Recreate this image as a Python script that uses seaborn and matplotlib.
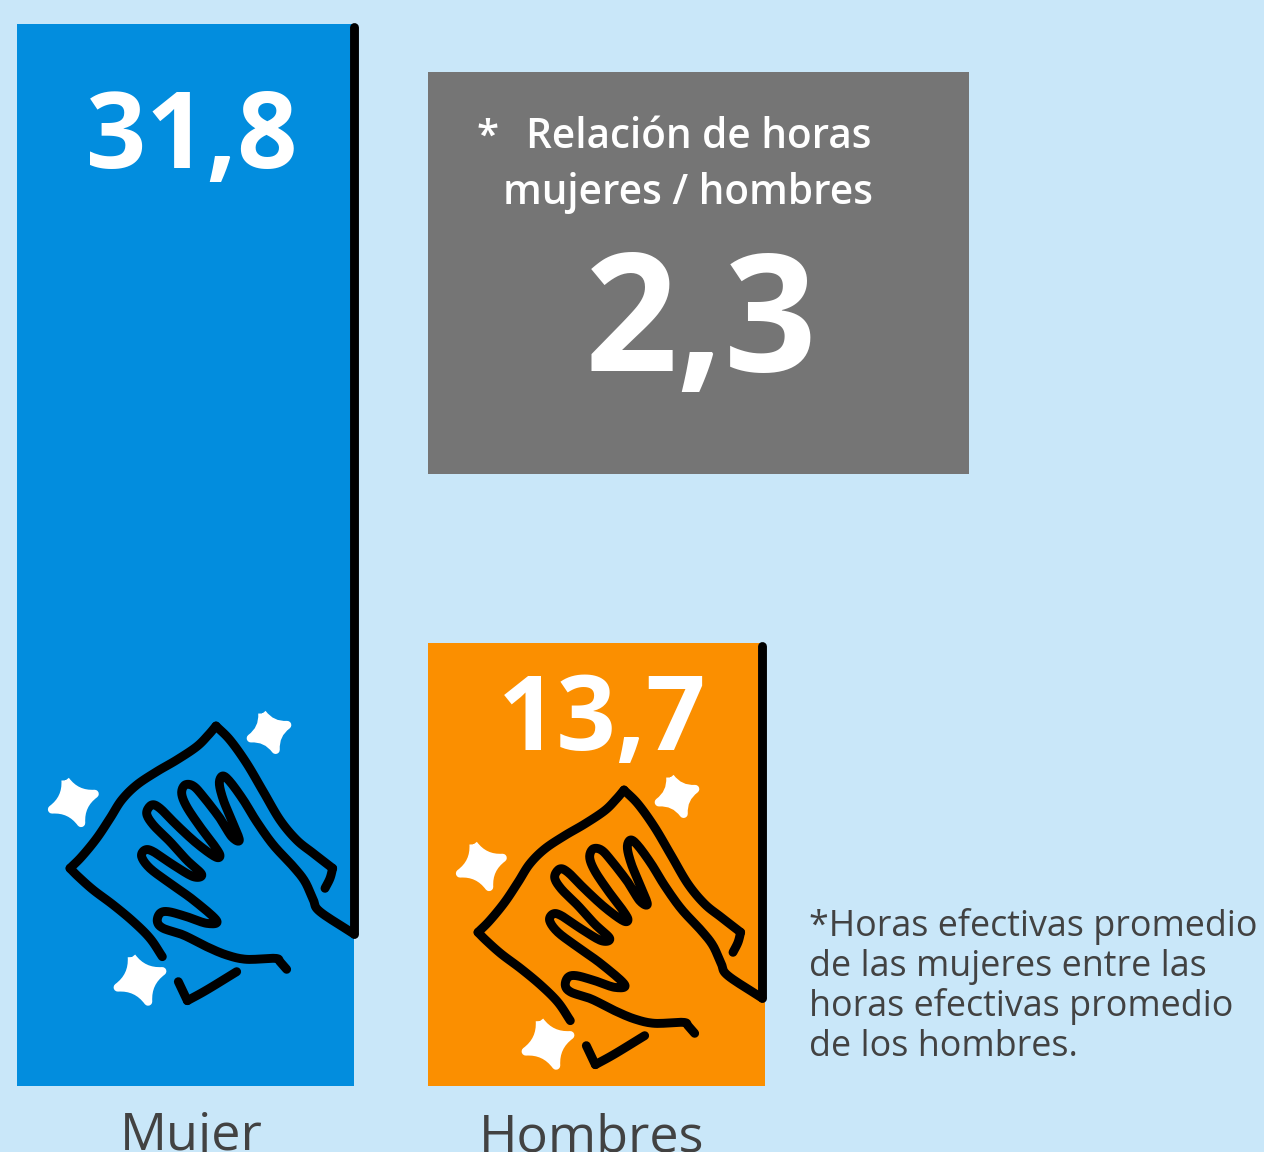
import numpy as np
import pandas as pd
import matplotlib
matplotlib.use('Agg')
import matplotlib.pyplot as plt
from matplotlib.patches import PathPatch, Rectangle
from matplotlib.path import Path
import seaborn as sns

categories = ['Mujer', 'Hombres']
# bar heights, the drawn Hombres bar is a bit shorter than its label says
bar_heights = [31.8, 13.26]
value_labels = ['31,8', '13,7']
bar_colors = ['#028DDE', '#FB8F00']
ratio_label = '2,3'
ratio_text = ['Relación de horas', 'mujeres / hombres']
footnote = ['*Horas efectivas promedio', 'de las mujeres entre las',
            'horas efectivas promedio', 'de los hombres.']

BG = '#C9E7F9'
GREY = '#757575'
DARK = '#424242'
W, H = 1264, 1152

# icon strokes, traced in the coordinates of a 3x crop
FLAP = [(397, 800), (360, 745), (310, 695), (250, 645), (190, 600), (145, 560), (120, 535)]
FLAP2 = [(120, 535), (155, 500), (200, 445), (240, 385), (275, 330), (320, 285), (380, 245),
         (440, 210), (500, 170), (535, 135), (558, 108)]
FLAP3 = [(558, 108), (600, 150), (650, 220), (700, 305), (750, 390), (800, 450), (850, 490), (908, 535)]
FLAP4 = [(908, 535), (900, 565), (885, 595)]
HAND = [(972, 732), (870, 665), (850, 630), (825, 575), (790, 530), (730, 465), (680, 395), (640, 330),
        (600, 275), (578, 258), (568, 280), (580, 330), (605, 390), (628, 450), (605, 440), (570, 385),
        (520, 320), (490, 288), (465, 285), (455, 310), (470, 350), (510, 410), (555, 470), (570, 497),
        (555, 500), (500, 460), (440, 405), (390, 355), (365, 345), (350, 370), (370, 405), (420, 455),
        (470, 510), (515, 553), (490, 560), (430, 525), (370, 485), (345, 480), (335, 500), (360, 535),
        (420, 580), (490, 630), (560, 692), (530, 700), (470, 680), (415, 665), (390, 670), (382, 695),
        (400, 715), (460, 735), (530, 770), (590, 795), (650, 808), (735, 805), (750, 815), (770, 838)]
CHECK = [(445, 875), (472, 932)]
CHECK2 = [(472, 932), (530, 900), (620, 845)]
STARS = [(717, 125, 58), (130, 335, 68), (330, 868, 71)]


def spline(pts, n=10):
    # catmull-rom through the traced points
    p = np.array(pts, dtype=float)
    p = np.vstack([2 * p[0] - p[1], p, 2 * p[-1] - p[-2]])
    out = []
    for i in range(1, len(p) - 2):
        for t in np.linspace(0, 1, n, endpoint=False):
            out.append(0.5 * (2 * p[i] + (p[i + 1] - p[i - 1]) * t
                              + (2 * p[i - 1] - 5 * p[i] + 4 * p[i + 1] - p[i + 2]) * t ** 2
                              + (3 * p[i] - p[i - 1] - 3 * p[i + 1] + p[i + 2]) * t ** 3))
    out.append(p[-2])
    return np.array(out)


def star_path(cx, cy, r):
    verts = []
    codes = []
    for k in range(4):
        a = np.deg2rad(-110 + 90 * k)
        b = a + np.pi / 4
        c = a + np.pi / 2
        if k == 0:
            verts.append((cx + r * np.cos(a), cy + r * np.sin(a)))
            codes.append(Path.MOVETO)
        verts.append((cx + r * 0.32 * np.cos(b), cy + r * 0.32 * np.sin(b)))
        verts.append((cx + r * np.cos(c), cy + r * np.sin(c)))
        codes += [Path.CURVE3, Path.CURVE3]
    return verts, codes


def draw_icon(ax, dx, dy, line_top):
    to_px = lambda a: np.asarray(a, dtype=float) / 3 + (30 + dx, 690 + dy)
    for stroke in [FLAP, FLAP2, FLAP3, FLAP4, HAND, CHECK, CHECK2]:
        xy = to_px(spline(stroke))
        ax.plot(xy[:, 0], xy[:, 1], color='black', lw=6.4, solid_capstyle='round', solid_joinstyle='round')
    corner = to_px([(972, 732)])[0]
    ax.plot([corner[0], corner[0]], [line_top, corner[1]], color='black', lw=6.4,
            solid_capstyle='round')
    for cx, cy, r in STARS:
        verts, codes = star_path(cx, cy, r)
        ax.add_patch(PathPatch(Path(to_px(verts), codes), facecolor='white', edgecolor='white',
                               lw=6, joinstyle='round'))


sns.set_theme(style='white')
plt.rcParams['font.family'] = ['Open Sans', 'DejaVu Sans']

fig = plt.figure(figsize=(W / 100, H / 100), dpi=100, facecolor=BG)
ax = fig.add_axes([0, 0, 1, 1])
ax.set_facecolor(BG)

df = pd.DataFrame({'categoria': categories, 'horas': bar_heights})
sns.barplot(data=df, x='categoria', y='horas', hue='categoria', palette=bar_colors,
            legend=False, width=337 / 411, saturation=1, linewidth=0, edgecolor='none', ax=ax)

# bar centres at 185.5 and 596.5 px, baseline at 1086 px, 31.8 = 1062 px
unit_x = 411
unit_y = 1062 / 31.8
ax.set_xlim(-185.5 / unit_x, (W - 185.5) / unit_x)
ax.set_ylim(-(H - 1086) / unit_y, 1086 / unit_y)
ax.axis('off')

# overlay in pixel coordinates for the box, icons and text
ov = fig.add_axes([0, 0, 1, 1])
ov.set_xlim(0, W)
ov.set_ylim(H, 0)
ov.axis('off')

ov.add_patch(Rectangle((428, 72), 541, 402, facecolor=GREY, edgecolor='none'))

draw_icon(ov, 0, 0, 27)
draw_icon(ov, 408, 64, 646)

ov.text(191.5, 168, value_labels[0], color='white', fontsize=76, fontweight='bold', ha='center', va='baseline')
ov.text(602, 750, value_labels[1], color='white', fontsize=75, fontweight='bold', ha='center', va='baseline')
ov.text(701.5, 371, ratio_label, color='white', fontsize=117, fontweight='bold', ha='center', va='baseline')

ov.text(488, 148, '*', color='white', fontsize=29, fontweight='semibold', ha='center', va='baseline')
ov.text(699, 148, ratio_text[0], color='white', fontsize=29.2, fontweight='semibold', ha='center', va='baseline')
ov.text(688, 204, ratio_text[1], color='white', fontsize=29.2, fontweight='semibold', ha='center', va='baseline')

for i, line in enumerate(footnote):
    ov.text(809, 936 + 40 * i, line, color=DARK, fontsize=25.8, ha='left', va='baseline')

# both labels run off the bottom edge in the reference too
ov.text(191, 1150, categories[0], color=DARK, fontsize=37.5, ha='center', va='baseline', clip_on=False)
ov.text(591.5, 1152, categories[1], color=DARK, fontsize=37.5, ha='center', va='baseline', clip_on=False)

fig.savefig('out.png', dpi=100, facecolor=BG)
